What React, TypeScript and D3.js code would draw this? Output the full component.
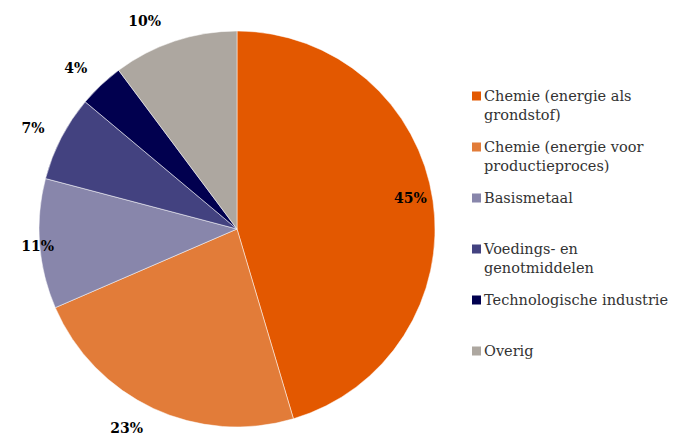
import React from "react";
import * as d3 from "d3";

const categories = [
  "Chemie (energie als grondstof)",
  "Chemie (energie voor productieproces)",
  "Basismetaal",
  "Voedings- en genotmiddelen",
  "Technologische industrie",
  "Overig",
];
const legendLines = [
  ["Chemie (energie als", "grondstof)"],
  ["Chemie (energie voor", "productieproces)"],
  ["Basismetaal"],
  ["Voedings- en", "genotmiddelen"],
  ["Technologische industrie"],
  ["Overig"],
];
const values = [45.4, 23.1, 10.6, 7.0, 3.7, 10.2];
const colors = ["#E35800", "#E27C39", "#8886AB", "#434280", "#01004F", "#ADA7A0"];
// label placement (layout): radial factor and angle shift in degrees
const labelRadius = [0.89, 1.15, 1.01, 1.15, 1.15, 1.15];
const labelShift = [-2, 4, -0.5, -1, -1.7, -5.6];

export default function App() {
  const W = 681, H = 435;
  const cx = 237, cy = 229, r = 198;
  const total = d3.sum(values);
  const pie = d3.pie<number>().sort(null).value((d) => d)(values);
  const arc = d3.arc<d3.PieArcDatum<number>>().innerRadius(0).outerRadius(r);
  const font = "'DejaVu Serif', serif";
  return (
    <svg width={W} height={H} style={{ position: "absolute", left: 0, top: 0 }}>
      <rect width={W} height={H} fill="#fff" />
      <g transform={`translate(${cx},${cy})`}>
        {pie.map((p, i) => (
          <path key={i} d={arc(p) || ""} fill={colors[i]} stroke="#fff" strokeWidth={0.5} />
        ))}
        {pie.map((p, i) => {
          const a = (p.startAngle + p.endAngle) / 2 + (labelShift[i] * Math.PI) / 180;
          const rr = r * labelRadius[i];
          const x = Math.sin(a) * rr;
          const y = -Math.cos(a) * rr;
          return (
            <text key={i} x={x} y={y} textAnchor="middle" dominantBaseline="central"
              fontFamily={font} fontWeight="bold" fontSize={14} fill="#000">
              {Math.round((values[i] / total) * 100)}%
            </text>
          );
        })}
      </g>
      <g>
        {categories.map((c, i) => {
          const y0 = 96 + i * 51;
          return (
            <g key={c}>
              <rect x={472} y={y0 - 4.5} width={9} height={9} fill={colors[i]} />
              {legendLines[i].map((l, j) => (
                <text key={j} x={484} y={y0 + j * 19} dominantBaseline="central"
                  fontFamily={font} fontSize={14.5} fill="#333">{l}</text>
              ))}
            </g>
          );
        })}
      </g>
    </svg>
  );
}
